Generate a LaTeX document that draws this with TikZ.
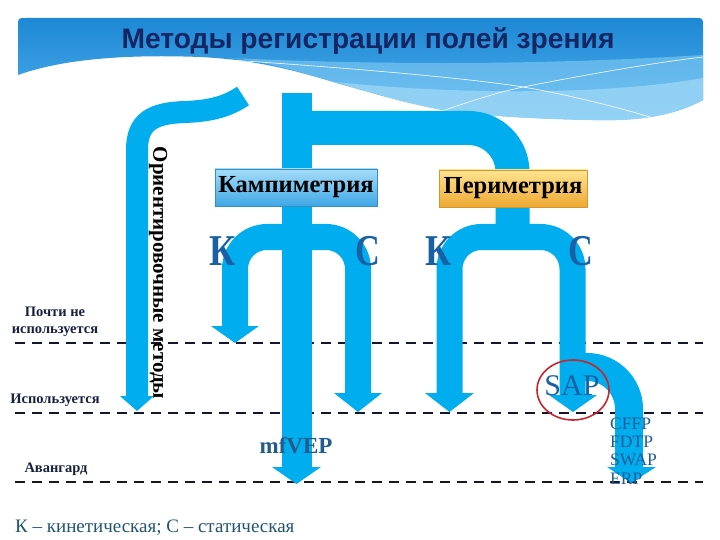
\documentclass[tikz,border=0pt]{standalone}
\usepackage{fontspec}
\setmainfont{Liberation Serif}
\newfontfamily\titlefont{Liberation Sans}
\definecolor{arrowc}{RGB}{0,174,239}
\definecolor{lettc}{RGB}{26,96,165}
\definecolor{listc}{RGB}{30,92,150}
\definecolor{navy}{RGB}{22,38,98}
\definecolor{labc}{RGB}{22,32,64}
\definecolor{legc}{RGB}{32,84,112}
\definecolor{vepc}{RGB}{34,92,140}
\definecolor{hTop}{RGB}{30,136,214}
\definecolor{hBot}{RGB}{80,178,236}
\definecolor{band}{RGB}{130,203,244}
\definecolor{bandL}{RGB}{172,222,248}
\definecolor{kTop}{RGB}{165,220,248}
\definecolor{kBot}{RGB}{64,168,230}
\definecolor{pTop}{RGB}{255,228,145}
\definecolor{pBot}{RGB}{238,168,50}
\definecolor{ringc}{RGB}{196,38,46}
\definecolor{dashc}{RGB}{20,22,45}
\begin{document}
\begin{tikzpicture}[x=1pt,y=-1pt,
  shaft/.style={draw=arrowc, line cap=butt},
  head/.style={fill=arrowc},
  bigletter/.style={text=lettc, font=\fontsize{44}{44}\selectfont\bfseries, inner sep=0, anchor=base},
  level/.style={draw=dashc, line width=2.4pt, dash pattern=on 10pt off 7pt},
  lab/.style={text=labc, font=\fontsize{14.5}{17}\selectfont\bfseries, align=center, inner sep=0},
  methodbox/.style={minimum height=37pt, inner sep=0, font=\fontsize{24.5}{24.5}\selectfont\bfseries, text=black},
  listtxt/.style={text=listc, font=\fontsize{17.5}{17.5}\selectfont, inner sep=0, anchor=base west}
]
\useasboundingbox (0,0) rectangle (720,540);
% header
\shade[top color=hTop, bottom color=hBot] (18,75) -- (18,26) .. controls (18,18) .. (26,18) -- (695,18) .. controls (703,18) .. (703,26) -- (703,100)
  .. controls (670,118) and (630,121) .. (593,120) .. controls (540,119) and (480,116) .. (443,110)
  .. controls (400,102) and (370,92) .. (340,84) .. controls (300,72) and (260,60) .. (200,57)
  .. controls (120,54) and (60,60) .. (18,75) -- cycle;
\fill[band, opacity=0.6] (230,58) .. controls (400,66) and (560,64) .. (703,55) -- (703,100)
  .. controls (670,118) and (630,121) .. (593,120) .. controls (540,119) and (480,116) .. (443,110)
  .. controls (400,102) and (370,92) .. (340,84) .. controls (300,72) and (270,62) .. (230,58) -- cycle;
\fill[bandL, opacity=0.6] (335,82) .. controls (450,94) and (600,96) .. (703,78) -- (703,100)
  .. controls (670,118) and (630,121) .. (593,120) .. controls (540,119) and (480,116) .. (443,110)
  .. controls (400,102) and (370,92) .. (335,82) -- cycle;
\draw[white, line width=0.6pt] (230,60) .. controls (380,70) and (480,80) .. (523,87) .. controls (570,95) and (620,108) .. (650,117);
\draw[white, line width=0.6pt] (445,110) .. controls (480,98) and (500,92) .. (523,87) .. controls (600,72) and (660,62) .. (703,57);
\node[font=\titlefont\fontsize{28.2}{30}\selectfont\bfseries, text=navy, anchor=base] (title) at (368,49) {Методы регистрации полей зрения};
% level lines
\coordinate (l1a) at (15,343); \coordinate (l1b) at (703,343);
\coordinate (l2a) at (15,413); \coordinate (l2b) at (703,413);
\coordinate (l3a) at (15,482); \coordinate (l3b) at (703,482);
\draw[level] (l1a) -- (l1b);
\draw[level] (l2a) -- (l2b);
\draw[level] (l3a) -- (l3b);
% orientation hook arrow
\draw[shaft, line width=22pt] (137,397) -- (137,150) .. controls (137,122) and (152,113) .. (185,112) .. controls (212,111) and (228,106) .. (243,96);
\fill[head] (120,396) -- (154,396) -- (137,411) -- cycle;
% top bar to perimetry
\draw[shaft, line width=34pt, rounded corners=44pt] (296.5,128) -- (512.5,128) -- (512.5,240);
% kampimetry arch
\draw[shaft, line width=26pt, rounded corners=32pt] (235,327) -- (235,237) -- (358,237) -- (358,394);
\fill[head] (211,326) -- (259,326) -- (235,343) -- cycle;
\fill[head] (334,393) -- (382,393) -- (358,412) -- cycle;
% perimetry arch
\draw[shaft, line width=26pt, rounded corners=32pt] (449.5,394) -- (449.5,237) -- (572.5,237) -- (572.5,396);
\fill[head] (425,393) -- (474,393) -- (449.5,412) -- cycle;
\fill[head] (549,395) -- (597,395) -- (573,412) -- cycle;
% branch
\draw[shaft, line width=28pt, rounded corners=42pt] (572,367) -- (629,367) -- (629,468);
\fill[head] (607,467) -- (656,467) -- (631,483) -- cycle;
% central shaft
\draw[shaft, line width=30pt] (296.5,93) -- (296.5,468);
\fill[head] (272,467) -- (321,467) -- (296.5,484) -- cycle;
% boxes
\node[methodbox, minimum width=162pt, top color=kTop, bottom color=kBot, draw=kBot!85!black, line width=0.4pt] (kamp) at (296,187.5) {Кампиметрия};
\node[methodbox, minimum width=148pt, top color=pTop, bottom color=pBot, draw=pBot!90!black, line width=0.4pt] (perim) at (513,188.5) {Периметрия};
% letters
\node[bigletter] (k1) at (223,265) {\scalebox{0.82}[1]{К}};
\node[bigletter] (c1) at (368,265) {\scalebox{0.78}[1]{С}};
\node[bigletter] (k2) at (439,265) {\scalebox{0.82}[1]{К}};
\node[bigletter] (c2) at (581,265) {\scalebox{0.78}[1]{С}};
% vertical text
\node[rotate=-90, font=\fontsize{21}{21}\selectfont\bfseries, inner sep=0] (orient) at (158,273) {Ориентировочные методы};
% labels
\node[lab] (rare) at (55,322) {Почти не\\используется};
\node[lab] (used) at (55,400) {Используется};
\node[lab] (avant) at (56,469) {Авангард};
% results
\node[text=vepc, font=\fontsize{23}{23}\selectfont\bfseries, anchor=base, inner sep=0] (vep) at (296,453) {mfVEP};
\node[text=lettc, font=\fontsize{30}{30}\selectfont, anchor=base, inner sep=0] (sap) at (572,395) {SAP};
\draw[ringc, line width=1.6pt] (573,390) ellipse [x radius=36pt, y radius=30pt];
\node[listtxt] (cffp) at (610,429) {CFFP};
\node[listtxt] (fdtp) at (610,447) {FDTP};
\node[listtxt] (swap) at (610,465) {SWAP};
\node[listtxt] (erp) at (610,484) {ERP};
% legend
\node[text=legc, font=\fontsize{19}{19}\selectfont, anchor=base west, inner sep=0] (legend) at (15,532) {К – кинетическая; С – статическая};
\end{tikzpicture}
\end{document}
